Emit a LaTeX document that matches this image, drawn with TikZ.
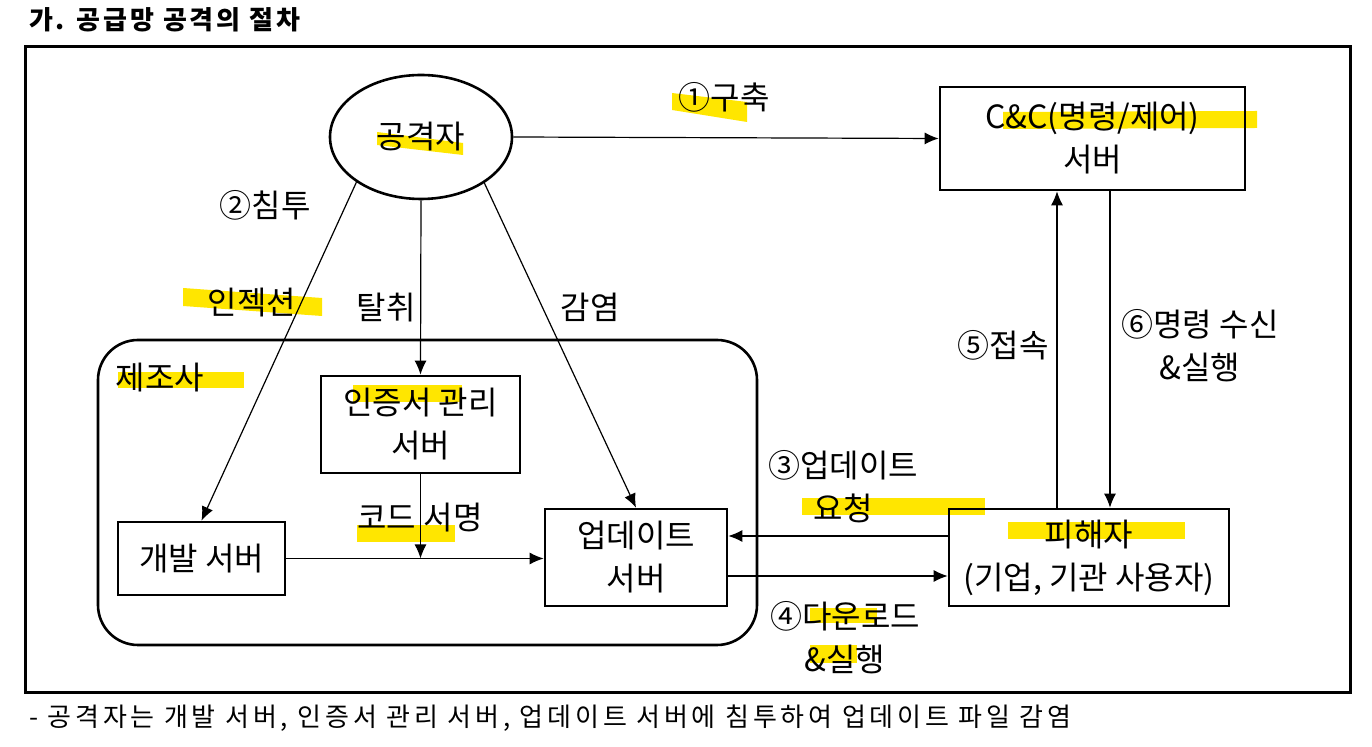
\documentclass[tikz,border=0pt]{standalone}
\usepackage{fontspec}
\setmainfont{Noto Sans CJK KR}
\usetikzlibrary{shapes.geometric, arrows.meta}
\definecolor{marker}{HTML}{FFE600}

\tikzset{
	box/.style={draw, line width=1.3pt, align=center, inner sep=0pt, font=\fontsize{16}{21.5}\selectfont},
	lbl/.style={align=center, inner sep=0pt, font=\fontsize{16}{21.5}\selectfont},
	conn/.style={line width=0.6pt, -{Latex[length=7pt,width=6pt]}},
	hl/.style={fill=marker}
}

\begin{document}
\begin{tikzpicture}[x=0.5pt, y=-0.5pt]
	\useasboundingbox (0,0) rectangle (1372,747);
	% highlighter marks
	\fill[hl] (672,93) -- (747,102) -- (747,122) -- (672,110) -- cycle;
	\fill[hl] (377,132) -- (463,143) -- (463,155) -- (377,145) -- cycle;
	\fill[hl] (1003,112) -- (1257,111) -- (1257,128) -- (1003,129) -- cycle;
	\fill[hl] (183,288) -- (322,298) -- (322,316) -- (183,306) -- cycle;
	\fill[hl] (118,372) rectangle (244,388);
	\fill[hl] (353,385) rectangle (462,402);
	\fill[hl] (357,525) rectangle (455,542);
	\fill[hl] (802,498) rectangle (985,515);
	\fill[hl] (1008,522) rectangle (1185,539);
	\fill[hl] (810,608) rectangle (877,623);
	\fill[hl] (810,645) rectangle (857,663);

	\node[anchor=west, font=\fontsize{13}{15}\selectfont\bfseries\addfontfeature{LetterSpace=11}] (title) at (22,20) {가. 공급망 공격의 절차};
	\draw[line width=1.5pt] (25,47) rectangle (1350,693);
	\node[anchor=west, font=\fontsize{13}{15}\selectfont\addfontfeature{LetterSpace=14.5}] (note) at (22,718) {- 공격자는 개발 서버, 인증서 관리 서버, 업데이트 서버에 침투하여 업데이트 파일 감염};

	% manufacturer
	\draw[line width=1.3pt, rounded corners=20pt] (98,340) rectangle (757,645);
	\node[lbl] (maker) at (160,378) {제조사};

	\node[box, ellipse, minimum width=91pt, minimum height=62pt] (atk) at (421,137) {공격자};
	\node[box, minimum width=152.5pt, minimum height=51.5pt] (cnc) at (1092.5,138.5) {C\&C(명령/제어)\\서버};
	\node[box, minimum width=99.5pt, minimum height=48.5pt] (cert) at (420.5,424.5) {인증서 관리\\서버};
	\node[box, minimum width=83.5pt, minimum height=36.5pt] (dev) at (201.5,558.5) {개발 서버};
	\node[box, minimum width=91pt, minimum height=48.5pt] (upd) at (636,557.5) {업데이트\\서버};
	\node[box, minimum width=140pt, minimum height=48.5pt] (vic) at (1089,557.5) {피해자\\(기업, 기관 사용자)};

	\draw[conn] (atk.east) -- (cnc.west);
	\draw[conn] (atk.215) -- (dev.north);
	\draw[conn] (atk.south) -- (cert.north);
	\draw[conn] (atk.324) -- (upd.north);
	\draw[conn] (dev.east) -- (dev.east -| upd.west);
	\draw[conn] (cert.south) -- (cert.south |- dev.east);
	\draw[conn] ([yshift=10.75pt]vic.west) -- ([yshift=10.75pt]upd.east);
	\draw[conn] ([yshift=-9.25pt]upd.east) -- ([yshift=-9.25pt]vic.west);
	\draw[conn] ([xshift=-16pt]vic.north) -- ([xshift=-16pt]vic.north |- cnc.south);
	\draw[conn] ([xshift=8.75pt]cnc.south) -- ([xshift=8.75pt]cnc.south |- vic.north);

	\node[lbl] (build) at (724,97) {①구축};
	\node[lbl] (intr) at (265,205) {②침투};
	\node[lbl] (inj) at (252,303) {인젝션};
	\node[lbl] (steal) at (386,308) {탈취};
	\node[lbl] (infect) at (590,307) {감염};
	\node[lbl] (sign) at (420,518) {코드 서명};
	\node[lbl] (req) at (843,487) {③업데이트\\요청};
	\node[lbl] (down) at (845,638) {④다운로드\\\&실행};
	\node[lbl] (conn5) at (1003,345) {⑤접속};
	\node[lbl] (cmd) at (1200,346) {⑥명령 수신\\\&실행};
\end{tikzpicture}
\end{document}
